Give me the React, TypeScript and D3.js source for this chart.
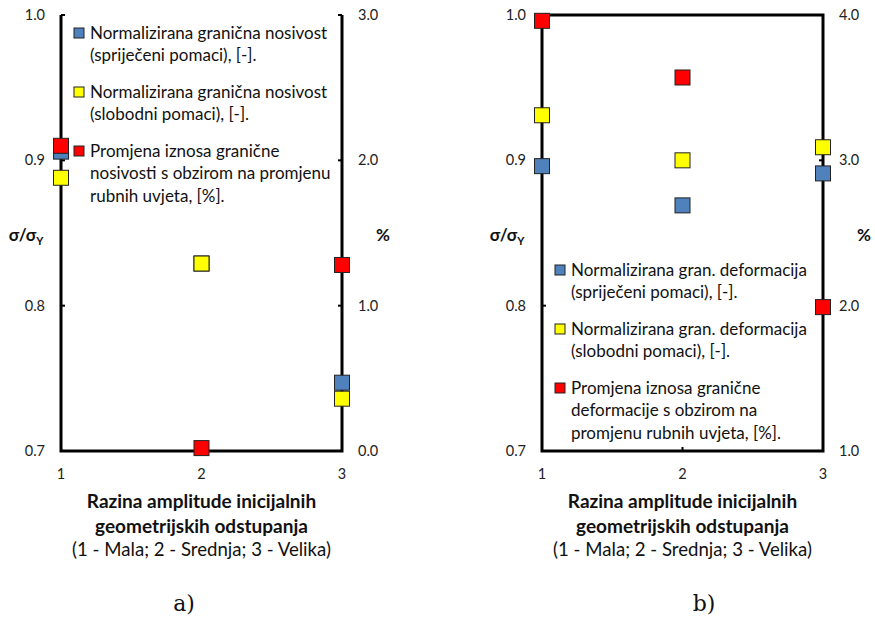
import React from "react";
import * as d3 from "d3";

const categories = [1, 2, 3];
const aBlue = [0.906, 0.829, 0.747];
const aYellow = [0.888, 0.829, 0.736];
const aRed = [2.1, 0.02, 1.28];
const bBlue = [0.896, 0.869, 0.891];
const bYellow = [0.931, 0.9, 0.909];
const bRed = [3.96, 3.57, 1.99];
const leftTicks = [0.7, 0.8, 0.9, 1.0];
const aRightTicks = [0, 1, 2, 3];
const bRightTicks = [1, 2, 3, 4];
const aLegend = [
  ["Normalizirana granična nosivost", "(spriječeni pomaci), [-]."],
  ["Normalizirana granična nosivost", "(slobodni pomaci), [-]."],
  ["Promjena iznosa granične", "nosivosti s obzirom na promjenu", "rubnih uvjeta, [%]."],
];
const bLegend = [
  ["Normalizirana gran. deformacija", "(spriječeni pomaci), [-]."],
  ["Normalizirana gran. deformacija", "(slobodni pomaci), [-]."],
  ["Promjena iznosa granične", "deformacije s obzirom na", "promjenu rubnih uvjeta, [%]."],
];
const xTitle = ["Razina amplitude inicijalnih", "geometrijskih odstupanja"];
const xSub = "(1 - Mala; 2 - Srednja; 3 - Velika)";
const colors = ["#4F81BD", "#FFFF00", "#FF0000"];

const FONT = "Lato, 'Open Sans', sans-serif";

type ChartProps = {
  x0: number; x1: number; blue: number[]; yellow: number[]; red: number[];
  rTicks: number[]; legend: string[][]; legendY: number; topLine: boolean; caption: string; capX: number;
};

function Chart({ x0, x1, blue, yellow, red, rTicks, legend, legendY, topLine, caption, capX }: ChartProps) {
  const y0 = 15, y1 = 451;
  const x = d3.scaleLinear().domain([1, 3]).range([x0, x1]);
  const yl = d3.scaleLinear().domain([0.7, 1.0]).range([y1, y0]);
  const yr = d3.scaleLinear().domain([rTicks[0], rTicks[rTicks.length - 1]]).range([y1, y0]);
  const sq = 15;
  const mk = (vals: number[], sc: any, col: string, key: string) =>
    vals.map((v, i) => (
      <rect key={key + i} x={x(categories[i]) - sq / 2} y={sc(v) - sq / 2} width={sq} height={sq}
        fill={col} stroke="#222" strokeWidth={1} />
    ));
  const cx = (x0 + x1) / 2;
  let ly = legendY;
  return (
    <g fontFamily={FONT}>
      {leftTicks.map((t) => (
        <g key={"l" + t}>
          <line x1={x0} x2={x0 + 4} y1={yl(t)} y2={yl(t)} stroke="#000" strokeWidth={2} />
          <text x={x0 - 16} y={yl(t)} dy="0.35em" textAnchor="end" fontSize={14.5} fill="#222">{t.toFixed(1)}</text>
        </g>
      ))}
      {rTicks.map((t) => (
        <g key={"r" + t}>
          <line x1={x1} x2={x1 - 4} y1={yr(t)} y2={yr(t)} stroke="#000" strokeWidth={2} />
          <text x={x1 + 16} y={yr(t)} dy="0.35em" textAnchor="start" fontSize={14.5} fill="#222">{t.toFixed(1)}</text>
        </g>
      ))}
      {categories.map((c) => (
        <g key={"x" + c}>
          <line x1={x(c)} x2={x(c)} y1={y1} y2={y1 - 4} stroke="#000" strokeWidth={2} />
          <text x={x(c)} y={474} dy="0.35em" textAnchor="middle" fontSize={14.5} fill="#222">{c}</text>
        </g>
      ))}
      <path d={`M${x0},${y0} L${x0},${y1} L${x1},${y1} L${x1},${y0}` + (topLine ? ` L${x0},${y0}` : "")}
        fill="none" stroke="#000" strokeWidth={3} />
      <text x={x0 - 35} y={235} dy="0.35em" textAnchor="middle" fontSize={17} fontWeight="bold" fill="#111">
        σ/σ<tspan fontSize={11} dy="4">Y</tspan>
      </text>
      <text x={x1 + 41} y={235} dy="0.35em" textAnchor="middle" fontSize={17} fontWeight="bold" fill="#111">%</text>
      {xTitle.map((t, i) => (
        <text key={t} x={cx} y={501 + i * 25} dy="0.35em" textAnchor="middle" fontSize={19} fontWeight="bold" fill="#111">{t}</text>
      ))}
      <text x={cx} y={549} dy="0.35em" textAnchor="middle" fontSize={18.6} fill="#111">{xSub}</text>
      {legend.map((lines, gi) => {
        const startY = ly;
        ly += lines.length * 22.5 + 14;
        return (
          <g key={"lg" + gi}>
            <rect x={x0 + 13} y={startY - 5} width={10} height={10} fill={colors[gi]} stroke="#222" strokeWidth={1} />
            {lines.map((t, j) => (
              <text key={j} x={x0 + 29} y={startY + j * 22.5} dy="0.35em" fontSize={17} fill="#111">{t}</text>
            ))}
          </g>
        );
      })}
      {mk(blue, yl, colors[0], "b")}
      {mk(yellow, yl, colors[1], "y")}
      {mk(red, yr, colors[2], "r")}
      <text x={capX} y={603} dy="0.35em" textAnchor="middle" fontSize={22} fontFamily="'DejaVu Serif', serif" fill="#111">{caption}</text>
    </g>
  );
}

export default function App() {
  return (
    <svg width={875} height={619} style={{ position: "absolute", left: 0, top: 0, background: "#fff" }}>
      <rect width={875} height={619} fill="#fff" />
      <Chart x0={61} x1={342} blue={aBlue} yellow={aYellow} red={aRed} rTicks={aRightTicks}
        legend={aLegend} legendY={33} topLine={false} caption="a)" capX={184} />
      <Chart x0={542} x1={823} blue={bBlue} yellow={bYellow} red={bRed} rTicks={bRightTicks}
        legend={bLegend} legendY={270} topLine={true} caption="b)" capX={704} />
    </svg>
  );
}
